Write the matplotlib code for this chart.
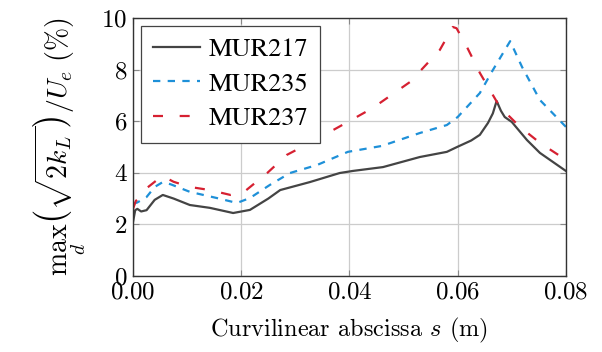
import matplotlib
matplotlib.use("Agg")
import matplotlib.pyplot as plt

plt.rcParams['mathtext.fontset'] = 'cm'
plt.rcParams['font.family'] = 'serif'
plt.rcParams['font.serif'] = ['cmr10', 'DejaVu Serif']
plt.rcParams['axes.formatter.use_mathtext'] = True

# curvilinear abscissa (m) and max sqrt(2k_L)/U_e (%)
mur217_s = [0.0, 0.0004, 0.0008, 0.0015, 0.0025, 0.004, 0.0055, 0.0075, 0.0105, 0.0142,
            0.0185, 0.0216, 0.025, 0.0272, 0.0327, 0.0382, 0.0406, 0.0462, 0.053, 0.058,
            0.0599, 0.0625, 0.0641, 0.0656, 0.0665, 0.0672, 0.068, 0.0687, 0.070, 0.0728,
            0.0752, 0.08]
mur217 = [2.1, 2.55, 2.6, 2.5, 2.55, 2.95, 3.14, 3.0, 2.75, 2.64,
          2.44, 2.56, 3.0, 3.33, 3.64, 3.99, 4.07, 4.22, 4.61, 4.81,
          5.0, 5.25, 5.47, 5.93, 6.3, 6.78, 6.4, 6.16, 5.97, 5.27,
          4.77, 4.07]

mur235_s = [0.0, 0.0008, 0.0025, 0.004, 0.0055, 0.007, 0.0105, 0.0155, 0.0192, 0.0216,
            0.0253, 0.029, 0.034, 0.0397, 0.046, 0.053, 0.058, 0.06, 0.0641, 0.0665,
            0.0697, 0.0719, 0.0752, 0.08]
mur235 = [2.8, 2.85, 3.06, 3.45, 3.64, 3.55, 3.26, 3.02, 2.83, 3.02,
          3.53, 3.99, 4.3, 4.81, 5.04, 5.54, 5.85, 6.16, 7.09, 7.98,
          9.1, 8.1, 6.82, 5.78]

mur237_s = [0.0, 0.0005, 0.0025, 0.0054, 0.0075, 0.0105, 0.0142, 0.018, 0.0203, 0.0248,
            0.0284, 0.0327, 0.0397, 0.0443, 0.0512, 0.0567, 0.0591, 0.0598, 0.0617, 0.0641,
            0.0678, 0.0715, 0.0752, 0.08]
mur237 = [2.6, 2.9, 3.4, 3.88, 3.65, 3.45, 3.33, 3.14, 3.22, 3.99,
          4.69, 5.16, 5.97, 6.51, 7.52, 8.76, 9.65, 9.6, 8.88, 7.87,
          6.55, 5.78, 5.16, 4.5]

xticks = [0.0, 0.02, 0.04, 0.06, 0.08]
xticklabels = ['0.00', '0.02', '0.04', '0.06', '0.08']
yticks = [0, 2, 4, 6, 8, 10]

fig = plt.figure(figsize=(6.02, 3.52), dpi=100)
ax = fig.add_axes([0.221, 0.216, 0.719, 0.733])

ax.plot(mur217_s, mur217, color='#444444', lw=1.6, label='MUR217')
ax.plot(mur235_s, mur235, color='#1e90d8', lw=1.6, dashes=(3.3, 3.3), label='MUR235')
ax.plot(mur237_s, mur237, color='#d62031', lw=1.6, dashes=(4.5, 7.5), label='MUR237')

ax.set_xlim(0, 0.08)
ax.set_ylim(0, 10)
ax.set_xticks(xticks)
ax.set_xticklabels(['$' + t + '$' for t in xticklabels])
ax.set_yticks(yticks)
ax.set_yticklabels(['$%d$' % t for t in yticks])
ax.tick_params(labelsize=18, direction='in', length=4, color='#888888',
               top=True, right=True, pad=4)
ax.grid(True, color='#cccccc', lw=0.9)
ax.set_axisbelow(True)
for sp in ax.spines.values():
    sp.set_color('#333333')
    sp.set_linewidth(1.0)

ax.set_xlabel(r'Curvilinear abscissa $s$ (m)', fontsize=17.5, labelpad=9)
ax.set_ylabel(r'$\max_{d}\left(\sqrt{2k_L}\right)/U_e\ (\%)$', fontsize=20, labelpad=10)

leg = ax.legend(loc='upper left', bbox_to_anchor=(0.0, 1.0), borderaxespad=0.3,
                fancybox=False, framealpha=1, edgecolor='#444444',
                prop={'family': 'STIXGeneral', 'size': 19},
                handlelength=1.8, handletextpad=0.3, labelspacing=0.38, borderpad=0.45)
leg.get_frame().set_linewidth(0.9)

fig.savefig('out.png', dpi=100)
